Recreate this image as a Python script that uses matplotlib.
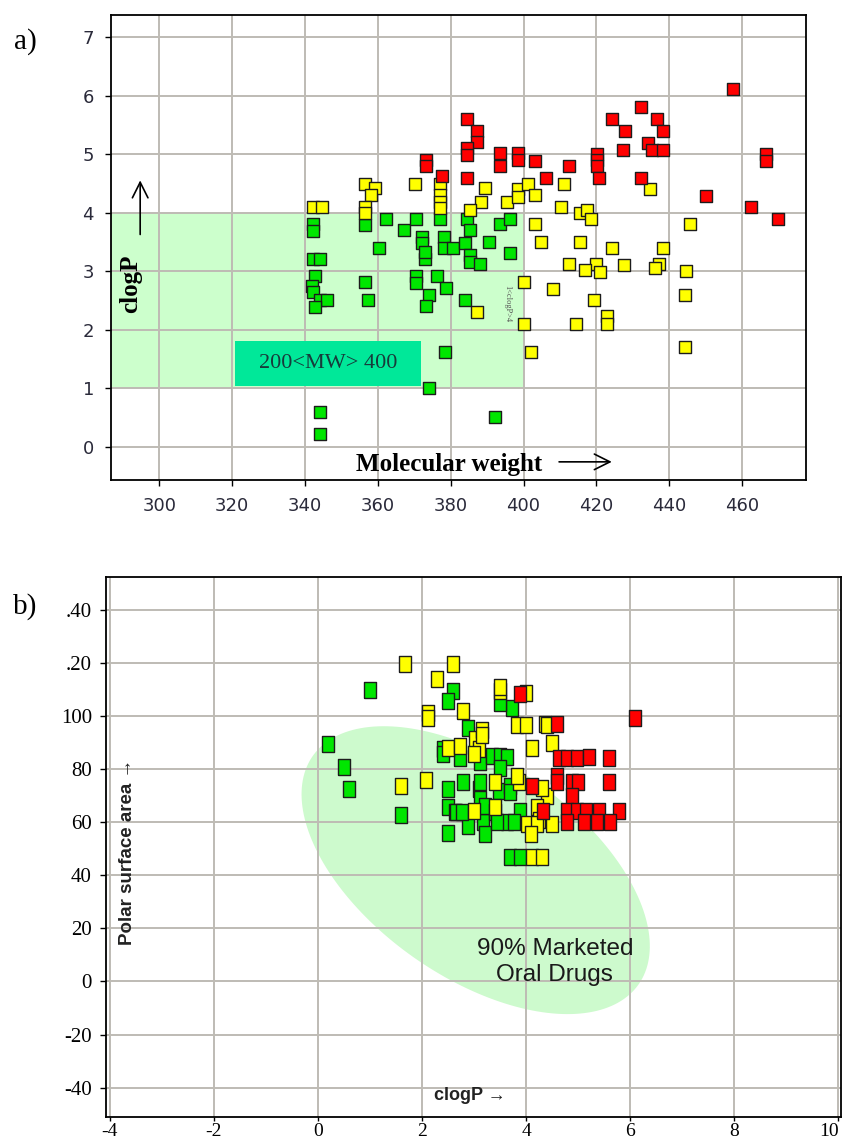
import matplotlib.pyplot as plt
import matplotlib.patches as mpatches
import numpy as np

plt.rcParams['axes.unicode_minus'] = False

# ---- panel a) molecular weight vs clogP ----
mw_red = [384.4, 387.2, 387.2, 384.4, 384.4, 373.2, 373.2, 377.7, 384.4, 393.6, 393.6, 398.4,
          398.4, 403.2, 406.2, 412.6, 420.3, 420.3, 420.3, 420.6, 424.3, 427.9, 427.3, 432.3,
          436.6, 438.4, 434.3, 435.2, 438.3, 432.3, 457.5, 466.6, 466.6, 450.2, 462.5, 469.8]
logp_red = [5.60, 5.40, 5.21, 5.10, 4.99, 4.90, 4.79, 4.62, 4.60, 5.02, 4.79, 5.02,
            4.90, 4.89, 4.60, 4.80, 5.00, 4.90, 4.80, 4.60, 5.60, 5.40, 5.08, 5.80,
            5.60, 5.40, 5.20, 5.08, 5.08, 4.60, 6.11, 5.00, 4.89, 4.29, 4.09, 3.90]

mw_yellow = [342.3, 344.6, 356.5, 359.2, 358.1, 356.5, 356.5, 370.3, 377.1, 377.1, 377.1, 377.1,
             389.4, 388.4, 385.4, 395.4, 398.4, 398.4, 401.2, 403.2, 403.2, 404.7, 411.2, 434.8,
             410.2, 415.4, 417.4, 418.5, 445.6, 415.4, 424.3, 438.3, 412.6, 420.0, 417.0, 421.0,
             427.5, 437.1, 436.2, 444.6, 408.0, 444.4, 419.4, 422.9, 422.9, 414.5, 444.4, 387.2,
             400.1, 400.1, 402.1]
logp_yellow = [4.10, 4.10, 4.49, 4.42, 4.30, 4.10, 3.99, 4.49, 4.49, 4.30, 4.19, 4.08,
               4.42, 4.19, 4.05, 4.19, 4.40, 4.27, 4.49, 4.30, 3.81, 3.50, 4.49, 4.40,
               4.09, 4.00, 4.05, 3.90, 3.81, 3.50, 3.39, 3.39, 3.13, 3.12, 3.02, 2.99,
               3.11, 3.13, 3.05, 3.00, 2.70, 2.60, 2.51, 2.24, 2.09, 2.09, 1.71, 2.31,
               2.81, 2.09, 1.61]

mw_green = [342.3, 342.3, 342.3, 344.1, 342.7, 341.8, 342.3, 344.1, 346.0, 342.7,
            356.5, 356.5, 357.4, 360.4, 362.3, 367.3, 370.4, 372.2, 372.2, 373.0, 372.8,
            370.4, 370.4, 374.0, 373.2, 377.1, 378.2, 378.2, 380.7, 376.3, 378.6,
            384.4, 385.2, 384.0, 385.2, 385.2, 388.1, 390.4, 384.0, 393.6, 396.3, 396.3,
            378.5, 374.0, 344.1, 344.1, 392.2]
logp_green = [3.81, 3.68, 3.21, 3.21, 2.91, 2.74, 2.65, 2.51, 2.51, 2.39,
              3.79, 2.81, 2.51, 3.39, 3.90, 3.70, 3.90, 3.59, 3.48, 3.21, 3.33,
              2.91, 2.80, 2.60, 2.41, 3.90, 3.59, 3.39, 3.39, 2.91, 2.71,
              3.90, 3.70, 3.49, 3.28, 3.16, 3.13, 3.50, 2.51, 3.81, 3.90, 3.31,
              1.61, 1.00, 0.60, 0.22, 0.51]

# ---- panel b) clogP vs polar surface area ----
cp_green = [0.99, 0.20, 0.49, 0.60, 1.60, 2.60, 2.50, 2.89, 2.40, 2.40, 2.73,
            2.50, 2.79, 2.50, 2.63, 2.89, 2.50, 3.11, 3.34, 3.50, 3.63, 3.50,
            3.73, 3.50, 3.10, 3.11, 3.11, 3.18, 3.21, 3.21, 3.40, 3.47, 3.69, 3.69,
            3.89, 3.63, 3.44, 3.76, 2.66, 2.76, 3.69, 3.89]
psa_green = [109.8, 89.5, 80.7, 72.4, 62.8, 109.2, 105.4, 95.5, 87.4, 85.5, 84.0,
             72.4, 75.1, 65.6, 63.7, 58.7, 56.0, 82.5, 84.9, 84.9, 84.6, 80.5,
             103.0, 104.8, 72.4, 75.0, 68.7, 60.0, 55.6, 66.2, 63.7, 71.8, 73.6, 71.2,
             64.3, 60.0, 60.0, 60.0, 63.7, 63.7, 46.9, 46.9]

cp_yellow = [1.68, 2.60, 2.29, 2.79, 2.11, 2.11, 2.50, 2.73, 1.60, 2.08, 3.00,
             3.05, 3.02, 3.10, 3.15, 3.15, 3.00, 3.50, 3.50, 4.00, 3.82, 4.00, 4.37, 4.40,
             4.11, 4.50, 3.40, 3.87, 3.82, 4.40, 4.30, 3.40, 4.21, 4.24,
             4.02, 4.21, 4.50, 4.10, 4.11, 4.31]
psa_yellow = [119.4, 119.4, 113.9, 101.7, 101.1, 99.2, 88.0, 88.6, 73.6, 76.0, 64.3,
              88.6, 91.1, 87.4, 94.8, 92.9, 85.5, 109.2, 111.0, 108.6, 96.7, 96.7, 97.1, 96.5,
              88.0, 89.6, 75.1, 75.1, 77.4, 69.9, 73.0, 65.6, 65.6, 60.6,
              59.3, 59.3, 59.3, 55.6, 46.9, 46.9]

cp_red = [6.10, 3.89, 4.60, 4.63, 4.79, 4.98, 5.21, 5.60, 5.60, 4.60, 4.60, 4.89, 5.00,
          4.89, 4.11, 4.33, 4.79, 4.98, 5.15, 5.40, 5.79, 4.79, 5.11, 5.37, 5.62]
psa_red = [99.0, 108.3, 97.1, 84.0, 84.0, 84.0, 84.6, 84.0, 75.1, 77.4, 75.0, 75.1, 75.1,
           69.9, 73.6, 64.3, 64.3, 64.3, 64.3, 64.3, 64.3, 60.0, 60.0, 60.0, 60.0]

a_xticks = [300, 320, 340, 360, 380, 400, 420, 440, 460]
a_yticks = [0, 1, 2, 3, 4, 5, 6, 7]
b_xticks = [-4, -2, 0, 2, 4, 6, 8, 10]
b_yticks = [-40, -20, 0, 20, 40, 60, 80, 100, 120, 140]
b_ylabels = ["-40", "-20", "0", "20", "40", "60", "80", "100", ".20", ".40"]

GREEN = '#00e600'
YELLOW = '#ffff00'
RED = '#ff0000'
EDGE = '#1c1c1c'
GRID = '#bebbb4'
MS_A = 84
MS_B = 125
# slightly tall rectangle used by the second plot
RECT = [(-0.41, -0.5), (0.41, -0.5), (0.41, 0.5), (-0.41, 0.5), (-0.41, -0.5)]

fig = plt.figure(figsize=(8.43, 11.45), dpi=100)

# ================= panel a =================
ax1 = fig.add_axes([0.1313, 0.5808, 0.8253, 0.4061])
ax1.set_xlim(286.6, 477.7)
ax1.set_ylim(-0.57, 7.38)
ax1.set_xticks(a_xticks)
ax1.set_yticks(a_yticks)
ax1.grid(True, color=GRID, lw=1.4)
ax1.set_axisbelow(True)
for s in ax1.spines.values():
    s.set_linewidth(1.3)
    s.set_color('black')
ax1.tick_params(direction='out', length=4, width=1, pad=8, labelsize=13,
                labelcolor='#2a2a3a')

# lipinski-like box
ax1.add_patch(mpatches.Rectangle((286.6, 1), 400 - 286.6, 3, facecolor='#ccffcc',
                                 edgecolor='none', zorder=0.2))
ax1.add_patch(mpatches.Rectangle((320.8, 1.03), 371.9 - 320.8, 0.77, facecolor='#00e899',
                                 edgecolor='none', zorder=1.5))
ax1.text(346.3, 1.42, "200<MW> 400", family='Liberation Serif', fontsize=16,
         color='#173b3b', ha='center', va='center', zorder=1.6)

ax1.scatter(mw_green, logp_green, marker='s', s=MS_A, c=GREEN, edgecolors=EDGE, linewidths=1.0, zorder=3)
ax1.scatter(mw_yellow, logp_yellow, marker='s', s=MS_A, c=YELLOW, edgecolors=EDGE, linewidths=1.0, zorder=3)
ax1.scatter(mw_red, logp_red, marker='s', s=MS_A, c=RED, edgecolors=EDGE, linewidths=1.0, zorder=3)

ax1.text(395.4, 2.45, "1<clogP>4", rotation=-90, family='Liberation Serif', fontsize=6,
         color='#555555', ha='center', va='center', zorder=2)

ax1.text(379.6, -0.31, "Molecular weight", family='Liberation Serif', fontweight='bold',
         fontsize=18, ha='center', va='center', zorder=4)
ax1.annotate('', xy=(425, -0.26), xytext=(409, -0.26),
             arrowprops=dict(arrowstyle='->', lw=1.2, color='black', mutation_scale=28))
ax1.text(292.2, 2.78, "clogP", rotation=90, family='Liberation Serif', fontweight='bold',
         fontsize=18, ha='center', va='center', zorder=4)
ax1.annotate('', xy=(294.7, 4.6), xytext=(294.7, 3.58),
             arrowprops=dict(arrowstyle='->', lw=1.2, color='black', mutation_scale=28))

fig.text(25 / 843, 1 - 42 / 1145, "a)", family='Liberation Serif', fontsize=21,
         ha='center', va='center')

# ================= panel b =================
ax2 = fig.add_axes([0.1254, 0.0245, 0.8722, 0.4719])
ax2.set_xlim(-4.08, 10.05)
ax2.set_ylim(-51.0, 152.4)
ax2.set_xticks(b_xticks)
ax2.set_yticks(b_yticks)
ax2.set_yticklabels(b_ylabels)
ax2.grid(True, color=GRID, lw=1.4)
ax2.set_axisbelow(True)
for s in ax2.spines.values():
    s.set_linewidth(1.3)
    s.set_color('black')
ax2.tick_params(direction='out', length=4, width=1, labelsize=15)
ax2.tick_params(axis='x', length=3, pad=1, labelsize=14)
ax2.tick_params(axis='y', pad=6)
for lab in ax2.get_xticklabels() + ax2.get_yticklabels():
    lab.set_family('Liberation Serif')
# the last label sits against the right edge in the original
ax2.get_xticklabels()[-1].set_horizontalalignment('right')

# 90% marketed oral drugs ellipse (built in pixel space, then mapped to data)
cx, cy = 3.03, 41.9
a_px, b_px, ang = 199.0, 107.0, np.radians(-35.0)
kx, ky = 52.05, 2.656
t = np.linspace(0, 2 * np.pi, 200)
u, v = a_px * np.cos(t), b_px * np.sin(t)
ex = cx + (u * np.cos(ang) - v * np.sin(ang)) / kx
ey = cy + (u * np.sin(ang) + v * np.cos(ang)) / ky
ax2.fill(ex, ey, color='#cdfacd', lw=0, zorder=0.2)

ax2.scatter(cp_green, psa_green, marker=RECT, s=MS_B, c=GREEN, edgecolors=EDGE, linewidths=1.0, zorder=3)
ax2.scatter(cp_yellow, psa_yellow, marker=RECT, s=MS_B, c=YELLOW, edgecolors=EDGE, linewidths=1.0, zorder=3)
ax2.scatter(cp_red, psa_red, marker=RECT, s=MS_B, c=RED, edgecolors=EDGE, linewidths=1.0, zorder=3)

ax2.text(4.55, 7.3, "90% Marketed\nOral Drugs", family='Liberation Sans', fontsize=17.5,
         color='#1a1a1a', ha='center', va='center', linespacing=1.2, zorder=4)
ax2.text(2.91, -42.8, "clogP \u2192", family='Liberation Sans', fontweight='bold',
         fontsize=13, color='#222222', ha='center', va='center')
ax2.text(-3.66, 48.9, "Polar surface area \u2192", rotation=90, family='Liberation Sans',
         fontweight='bold', fontsize=13.5, color='#222222', ha='center', va='center')

fig.text(25 / 843, 1 - 607 / 1145, "b)", family='Liberation Serif', fontsize=21,
         ha='center', va='center')

fig.savefig('out.png', dpi=100)
